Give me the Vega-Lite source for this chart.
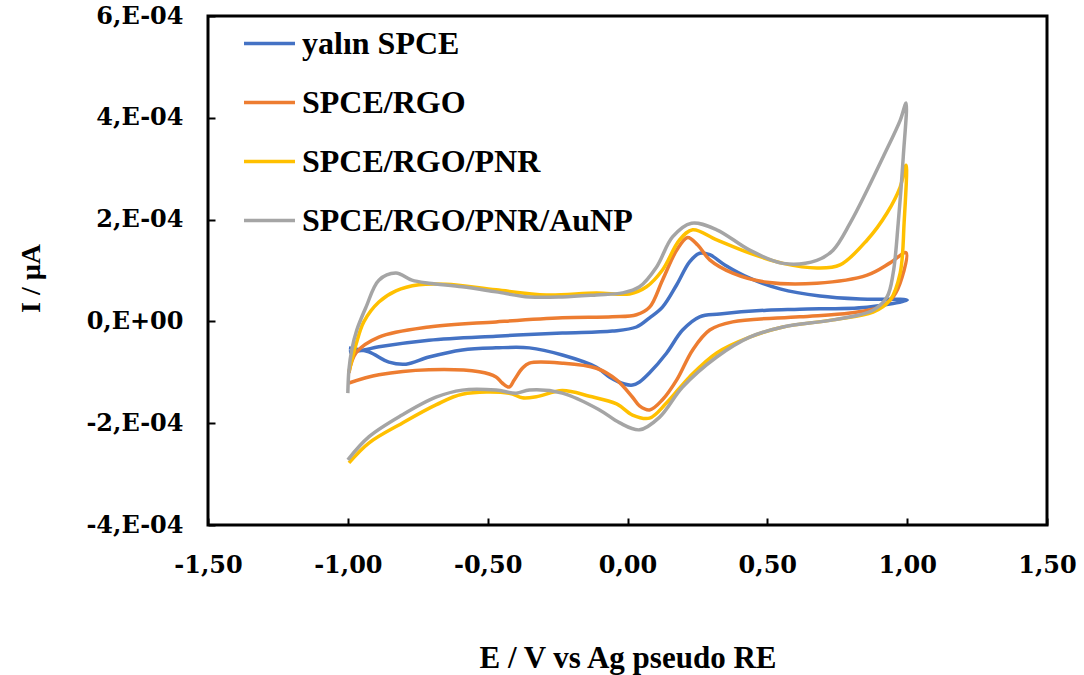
{
  "$schema": "https://vega.github.io/schema/vega-lite/v6.json",
  "autosize": "none",
  "width": 839,
  "height": 509,
  "padding": {"left": 208, "top": 16, "right": 37, "bottom": 150},
  "background": "white",
  "config": {
    "font": "Liberation Serif",
    "view": {"stroke": "black", "strokeWidth": 3},
    "axis": {
      "domain": false,
      "grid": false,
      "tickColor": "black",
      "tickWidth": 2,
      "tickSize": -7,
      "labelFont": "DejaVu Serif",
      "labelFontWeight": "bold",
      "labelFontSize": 24,
      "labelColor": "black",
      "titleFont": "Liberation Serif",
      "titleFontWeight": "bold",
      "titleColor": "black"
    }
  },
  "data": {
    "values": [
      {"s": "yalın SPCE", "E": -0.996, "I": -0.60e-4},
      {"s": "yalın SPCE", "E": -0.943, "I": -0.56e-4},
      {"s": "yalın SPCE", "E": -0.889, "I": -0.50e-4},
      {"s": "yalın SPCE", "E": -0.710, "I": -0.37e-4},
      {"s": "yalın SPCE", "E": -0.470, "I": -0.29e-4},
      {"s": "yalın SPCE", "E": -0.233, "I": -0.23e-4},
      {"s": "yalın SPCE", "E": -0.054, "I": -0.19e-4},
      {"s": "yalın SPCE", "E": 0.032, "I": -0.11e-4},
      {"s": "yalın SPCE", "E": 0.079, "I": 0.07e-4},
      {"s": "yalın SPCE", "E": 0.125, "I": 0.28e-4},
      {"s": "yalın SPCE", "E": 0.176, "I": 0.72e-4},
      {"s": "yalın SPCE", "E": 0.222, "I": 1.17e-4},
      {"s": "yalın SPCE", "E": 0.258, "I": 1.34e-4},
      {"s": "yalın SPCE", "E": 0.294, "I": 1.31e-4},
      {"s": "yalın SPCE", "E": 0.348, "I": 1.11e-4},
      {"s": "yalın SPCE", "E": 0.437, "I": 0.85e-4},
      {"s": "yalın SPCE", "E": 0.545, "I": 0.64e-4},
      {"s": "yalın SPCE", "E": 0.688, "I": 0.50e-4},
      {"s": "yalın SPCE", "E": 0.832, "I": 0.44e-4},
      {"s": "yalın SPCE", "E": 1.000, "I": 0.42e-4},
      {"s": "yalın SPCE", "E": 0.857, "I": 0.28e-4},
      {"s": "yalın SPCE", "E": 0.616, "I": 0.24e-4},
      {"s": "yalın SPCE", "E": 0.498, "I": 0.22e-4},
      {"s": "yalın SPCE", "E": 0.330, "I": 0.145e-4},
      {"s": "yalın SPCE", "E": 0.258, "I": 0.09e-4},
      {"s": "yalın SPCE", "E": 0.197, "I": -0.17e-4},
      {"s": "yalın SPCE", "E": 0.140, "I": -0.62e-4},
      {"s": "yalın SPCE", "E": 0.079, "I": -1.01e-4},
      {"s": "yalın SPCE", "E": 0.043, "I": -1.19e-4},
      {"s": "yalın SPCE", "E": 0.018, "I": -1.25e-4},
      {"s": "yalın SPCE", "E": -0.011, "I": -1.23e-4},
      {"s": "yalın SPCE", "E": -0.065, "I": -1.09e-4},
      {"s": "yalın SPCE", "E": -0.111, "I": -0.90e-4},
      {"s": "yalın SPCE", "E": -0.233, "I": -0.66e-4},
      {"s": "yalın SPCE", "E": -0.351, "I": -0.52e-4},
      {"s": "yalın SPCE", "E": -0.470, "I": -0.52e-4},
      {"s": "yalın SPCE", "E": -0.591, "I": -0.56e-4},
      {"s": "yalın SPCE", "E": -0.710, "I": -0.70e-4},
      {"s": "yalın SPCE", "E": -0.792, "I": -0.84e-4},
      {"s": "yalın SPCE", "E": -0.853, "I": -0.80e-4},
      {"s": "yalın SPCE", "E": -0.925, "I": -0.60e-4},
      {"s": "yalın SPCE", "E": -0.996, "I": -0.52e-4},

      {"s": "SPCE/RGO", "E": -0.996, "I": -1.01e-4},
      {"s": "SPCE/RGO", "E": -0.971, "I": -0.62e-4},
      {"s": "SPCE/RGO", "E": -0.889, "I": -0.31e-4},
      {"s": "SPCE/RGO", "E": -0.710, "I": -0.11e-4},
      {"s": "SPCE/RGO", "E": -0.470, "I": -0.01e-4},
      {"s": "SPCE/RGO", "E": -0.233, "I": 0.07e-4},
      {"s": "SPCE/RGO", "E": -0.054, "I": 0.09e-4},
      {"s": "SPCE/RGO", "E": 0.032, "I": 0.13e-4},
      {"s": "SPCE/RGO", "E": 0.079, "I": 0.28e-4},
      {"s": "SPCE/RGO", "E": 0.125, "I": 0.81e-4},
      {"s": "SPCE/RGO", "E": 0.176, "I": 1.40e-4},
      {"s": "SPCE/RGO", "E": 0.215, "I": 1.65e-4},
      {"s": "SPCE/RGO", "E": 0.251, "I": 1.50e-4},
      {"s": "SPCE/RGO", "E": 0.294, "I": 1.21e-4},
      {"s": "SPCE/RGO", "E": 0.376, "I": 0.95e-4},
      {"s": "SPCE/RGO", "E": 0.498, "I": 0.77e-4},
      {"s": "SPCE/RGO", "E": 0.677, "I": 0.75e-4},
      {"s": "SPCE/RGO", "E": 0.857, "I": 0.91e-4},
      {"s": "SPCE/RGO", "E": 0.939, "I": 1.15e-4},
      {"s": "SPCE/RGO", "E": 0.996, "I": 1.35e-4},
      {"s": "SPCE/RGO", "E": 0.982, "I": 0.87e-4},
      {"s": "SPCE/RGO", "E": 0.950, "I": 0.48e-4},
      {"s": "SPCE/RGO", "E": 0.903, "I": 0.28e-4},
      {"s": "SPCE/RGO", "E": 0.796, "I": 0.165e-4},
      {"s": "SPCE/RGO", "E": 0.616, "I": 0.09e-4},
      {"s": "SPCE/RGO", "E": 0.376, "I": -0.01e-4},
      {"s": "SPCE/RGO", "E": 0.294, "I": -0.17e-4},
      {"s": "SPCE/RGO", "E": 0.233, "I": -0.56e-4},
      {"s": "SPCE/RGO", "E": 0.176, "I": -1.15e-4},
      {"s": "SPCE/RGO", "E": 0.125, "I": -1.54e-4},
      {"s": "SPCE/RGO", "E": 0.079, "I": -1.74e-4},
      {"s": "SPCE/RGO", "E": 0.043, "I": -1.66e-4},
      {"s": "SPCE/RGO", "E": 0.018, "I": -1.49e-4},
      {"s": "SPCE/RGO", "E": -0.039, "I": -1.15e-4},
      {"s": "SPCE/RGO", "E": -0.111, "I": -0.92e-4},
      {"s": "SPCE/RGO", "E": -0.233, "I": -0.82e-4},
      {"s": "SPCE/RGO", "E": -0.351, "I": -0.82e-4},
      {"s": "SPCE/RGO", "E": -0.376, "I": -0.92e-4},
      {"s": "SPCE/RGO", "E": -0.405, "I": -1.15e-4},
      {"s": "SPCE/RGO", "E": -0.423, "I": -1.29e-4},
      {"s": "SPCE/RGO", "E": -0.448, "I": -1.21e-4},
      {"s": "SPCE/RGO", "E": -0.470, "I": -1.09e-4},
      {"s": "SPCE/RGO", "E": -0.530, "I": -0.99e-4},
      {"s": "SPCE/RGO", "E": -0.710, "I": -0.95e-4},
      {"s": "SPCE/RGO", "E": -0.889, "I": -1.05e-4},
      {"s": "SPCE/RGO", "E": -0.996, "I": -1.21e-4},

      {"s": "SPCE/RGO/PNR", "E": -0.996, "I": -0.99e-4},
      {"s": "SPCE/RGO/PNR", "E": -0.971, "I": -0.46e-4},
      {"s": "SPCE/RGO/PNR", "E": -0.943, "I": -0.01e-4},
      {"s": "SPCE/RGO/PNR", "E": -0.889, "I": 0.38e-4},
      {"s": "SPCE/RGO/PNR", "E": -0.828, "I": 0.60e-4},
      {"s": "SPCE/RGO/PNR", "E": -0.746, "I": 0.72e-4},
      {"s": "SPCE/RGO/PNR", "E": -0.649, "I": 0.73e-4},
      {"s": "SPCE/RGO/PNR", "E": -0.470, "I": 0.62e-4},
      {"s": "SPCE/RGO/PNR", "E": -0.290, "I": 0.52e-4},
      {"s": "SPCE/RGO/PNR", "E": -0.111, "I": 0.56e-4},
      {"s": "SPCE/RGO/PNR", "E": 0.007, "I": 0.54e-4},
      {"s": "SPCE/RGO/PNR", "E": 0.068, "I": 0.68e-4},
      {"s": "SPCE/RGO/PNR", "E": 0.125, "I": 1.01e-4},
      {"s": "SPCE/RGO/PNR", "E": 0.186, "I": 1.60e-4},
      {"s": "SPCE/RGO/PNR", "E": 0.233, "I": 1.80e-4},
      {"s": "SPCE/RGO/PNR", "E": 0.319, "I": 1.60e-4},
      {"s": "SPCE/RGO/PNR", "E": 0.437, "I": 1.34e-4},
      {"s": "SPCE/RGO/PNR", "E": 0.556, "I": 1.14e-4},
      {"s": "SPCE/RGO/PNR", "E": 0.677, "I": 1.05e-4},
      {"s": "SPCE/RGO/PNR", "E": 0.760, "I": 1.11e-4},
      {"s": "SPCE/RGO/PNR", "E": 0.857, "I": 1.60e-4},
      {"s": "SPCE/RGO/PNR", "E": 0.928, "I": 2.13e-4},
      {"s": "SPCE/RGO/PNR", "E": 0.975, "I": 2.64e-4},
      {"s": "SPCE/RGO/PNR", "E": 0.996, "I": 3.07e-4},
      {"s": "SPCE/RGO/PNR", "E": 0.989, "I": 1.93e-4},
      {"s": "SPCE/RGO/PNR", "E": 0.975, "I": 0.95e-4},
      {"s": "SPCE/RGO/PNR", "E": 0.939, "I": 0.42e-4},
      {"s": "SPCE/RGO/PNR", "E": 0.878, "I": 0.18e-4},
      {"s": "SPCE/RGO/PNR", "E": 0.735, "I": 0.03e-4},
      {"s": "SPCE/RGO/PNR", "E": 0.556, "I": -0.11e-4},
      {"s": "SPCE/RGO/PNR", "E": 0.437, "I": -0.31e-4},
      {"s": "SPCE/RGO/PNR", "E": 0.319, "I": -0.62e-4},
      {"s": "SPCE/RGO/PNR", "E": 0.222, "I": -1.09e-4},
      {"s": "SPCE/RGO/PNR", "E": 0.140, "I": -1.60e-4},
      {"s": "SPCE/RGO/PNR", "E": 0.079, "I": -1.90e-4},
      {"s": "SPCE/RGO/PNR", "E": 0.018, "I": -1.84e-4},
      {"s": "SPCE/RGO/PNR", "E": -0.039, "I": -1.62e-4},
      {"s": "SPCE/RGO/PNR", "E": -0.136, "I": -1.47e-4},
      {"s": "SPCE/RGO/PNR", "E": -0.233, "I": -1.36e-4},
      {"s": "SPCE/RGO/PNR", "E": -0.326, "I": -1.48e-4},
      {"s": "SPCE/RGO/PNR", "E": -0.376, "I": -1.50e-4},
      {"s": "SPCE/RGO/PNR", "E": -0.423, "I": -1.41e-4},
      {"s": "SPCE/RGO/PNR", "E": -0.591, "I": -1.43e-4},
      {"s": "SPCE/RGO/PNR", "E": -0.685, "I": -1.64e-4},
      {"s": "SPCE/RGO/PNR", "E": -0.806, "I": -2.00e-4},
      {"s": "SPCE/RGO/PNR", "E": -0.925, "I": -2.39e-4},
      {"s": "SPCE/RGO/PNR", "E": -0.996, "I": -2.78e-4},

      {"s": "SPCE/RGO/PNR/AuNP", "E": -1.000, "I": -1.41e-4},
      {"s": "SPCE/RGO/PNR/AuNP", "E": -0.996, "I": -0.95e-4},
      {"s": "SPCE/RGO/PNR/AuNP", "E": -0.986, "I": -0.56e-4},
      {"s": "SPCE/RGO/PNR/AuNP", "E": -0.968, "I": -0.17e-4},
      {"s": "SPCE/RGO/PNR/AuNP", "E": -0.935, "I": 0.28e-4},
      {"s": "SPCE/RGO/PNR/AuNP", "E": -0.889, "I": 0.81e-4},
      {"s": "SPCE/RGO/PNR/AuNP", "E": -0.828, "I": 0.95e-4},
      {"s": "SPCE/RGO/PNR/AuNP", "E": -0.771, "I": 0.81e-4},
      {"s": "SPCE/RGO/PNR/AuNP", "E": -0.710, "I": 0.75e-4},
      {"s": "SPCE/RGO/PNR/AuNP", "E": -0.591, "I": 0.68e-4},
      {"s": "SPCE/RGO/PNR/AuNP", "E": -0.470, "I": 0.58e-4},
      {"s": "SPCE/RGO/PNR/AuNP", "E": -0.351, "I": 0.48e-4},
      {"s": "SPCE/RGO/PNR/AuNP", "E": -0.233, "I": 0.48e-4},
      {"s": "SPCE/RGO/PNR/AuNP", "E": -0.111, "I": 0.52e-4},
      {"s": "SPCE/RGO/PNR/AuNP", "E": -0.018, "I": 0.56e-4},
      {"s": "SPCE/RGO/PNR/AuNP", "E": 0.043, "I": 0.68e-4},
      {"s": "SPCE/RGO/PNR/AuNP", "E": 0.104, "I": 1.07e-4},
      {"s": "SPCE/RGO/PNR/AuNP", "E": 0.161, "I": 1.66e-4},
      {"s": "SPCE/RGO/PNR/AuNP", "E": 0.229, "I": 1.93e-4},
      {"s": "SPCE/RGO/PNR/AuNP", "E": 0.319, "I": 1.80e-4},
      {"s": "SPCE/RGO/PNR/AuNP", "E": 0.437, "I": 1.40e-4},
      {"s": "SPCE/RGO/PNR/AuNP", "E": 0.556, "I": 1.14e-4},
      {"s": "SPCE/RGO/PNR/AuNP", "E": 0.677, "I": 1.20e-4},
      {"s": "SPCE/RGO/PNR/AuNP", "E": 0.735, "I": 1.40e-4},
      {"s": "SPCE/RGO/PNR/AuNP", "E": 0.796, "I": 1.93e-4},
      {"s": "SPCE/RGO/PNR/AuNP", "E": 0.857, "I": 2.58e-4},
      {"s": "SPCE/RGO/PNR/AuNP", "E": 0.914, "I": 3.23e-4},
      {"s": "SPCE/RGO/PNR/AuNP", "E": 0.975, "I": 3.95e-4},
      {"s": "SPCE/RGO/PNR/AuNP", "E": 0.996, "I": 4.29e-4},
      {"s": "SPCE/RGO/PNR/AuNP", "E": 0.986, "I": 3.23e-4},
      {"s": "SPCE/RGO/PNR/AuNP", "E": 0.968, "I": 1.93e-4},
      {"s": "SPCE/RGO/PNR/AuNP", "E": 0.950, "I": 0.95e-4},
      {"s": "SPCE/RGO/PNR/AuNP", "E": 0.928, "I": 0.48e-4},
      {"s": "SPCE/RGO/PNR/AuNP", "E": 0.878, "I": 0.22e-4},
      {"s": "SPCE/RGO/PNR/AuNP", "E": 0.735, "I": 0.03e-4},
      {"s": "SPCE/RGO/PNR/AuNP", "E": 0.556, "I": -0.11e-4},
      {"s": "SPCE/RGO/PNR/AuNP", "E": 0.437, "I": -0.31e-4},
      {"s": "SPCE/RGO/PNR/AuNP", "E": 0.319, "I": -0.70e-4},
      {"s": "SPCE/RGO/PNR/AuNP", "E": 0.197, "I": -1.29e-4},
      {"s": "SPCE/RGO/PNR/AuNP", "E": 0.115, "I": -1.88e-4},
      {"s": "SPCE/RGO/PNR/AuNP", "E": 0.043, "I": -2.13e-4},
      {"s": "SPCE/RGO/PNR/AuNP", "E": -0.029, "I": -1.99e-4},
      {"s": "SPCE/RGO/PNR/AuNP", "E": -0.100, "I": -1.74e-4},
      {"s": "SPCE/RGO/PNR/AuNP", "E": -0.233, "I": -1.41e-4},
      {"s": "SPCE/RGO/PNR/AuNP", "E": -0.351, "I": -1.35e-4},
      {"s": "SPCE/RGO/PNR/AuNP", "E": -0.398, "I": -1.41e-4},
      {"s": "SPCE/RGO/PNR/AuNP", "E": -0.470, "I": -1.35e-4},
      {"s": "SPCE/RGO/PNR/AuNP", "E": -0.591, "I": -1.35e-4},
      {"s": "SPCE/RGO/PNR/AuNP", "E": -0.685, "I": -1.49e-4},
      {"s": "SPCE/RGO/PNR/AuNP", "E": -0.806, "I": -1.84e-4},
      {"s": "SPCE/RGO/PNR/AuNP", "E": -0.925, "I": -2.27e-4},
      {"s": "SPCE/RGO/PNR/AuNP", "E": -1.000, "I": -2.72e-4}
    ]
  },
  "mark": {"type": "line", "interpolate": "catmull-rom", "strokeWidth": 3.5, "clip": true},
  "encoding": {
    "order": {"value": null},
    "x": {
      "field": "E",
      "type": "quantitative",
      "scale": {"domain": [-1.5, 1.5], "nice": false, "zero": false},
      "axis": {
        "values": [-1.5, -1, -0.5, 0, 0.5, 1, 1.5],
        "labelExpr": "(datum.value < 0 ? '-' : '') + replace(format(abs(datum.value), '.2f'), '.', ',')",
        "labelFlush": false,
        "labelOverlap": false,
        "labelPadding": 35,
        "title": "E / V vs Ag pseudo RE",
        "titleFontSize": 31,
        "titleBaseline": "alphabetic",
        "titleY": 142
      }
    },
    "y": {
      "field": "I",
      "type": "quantitative",
      "scale": {"domain": [-0.0004, 0.0006], "nice": false, "zero": false},
      "axis": {
        "values": [-0.0004, -0.0002, 0, 0.0002, 0.0004, 0.0006],
        "labelExpr": "datum.value == 0 ? '0,E+00' : (datum.value < 0 ? '-' : '') + abs(round(datum.value * 10000)) + ',E-04'",
        "labelPadding": 32,
        "title": "I / µA",
        "titleFontSize": 28,
        "titleBaseline": "alphabetic",
        "titleAngle": -90,
        "titleX": -169,
        "titleY": 262
      }
    },
    "color": {
      "field": "s",
      "type": "nominal",
      "scale": {
        "domain": ["yalın SPCE", "SPCE/RGO", "SPCE/RGO/PNR", "SPCE/RGO/PNR/AuNP"],
        "range": ["#4472C4", "#ED7D31", "#FFC000", "#A5A5A5"]
      },
      "legend": {
        "title": null,
        "orient": "none",
        "legendX": 34,
        "legendY": 0,
        "symbolType": "stroke",
        "symbolSize": 2601,
        "symbolStrokeWidth": 3.5,
        "labelFont": "Liberation Serif",
        "labelFontWeight": "bold",
        "labelFontSize": 32,
        "labelColor": "black",
        "labelOffset": 5,
        "labelLimit": 600,
        "rowPadding": 15
      }
    }
  }
}
